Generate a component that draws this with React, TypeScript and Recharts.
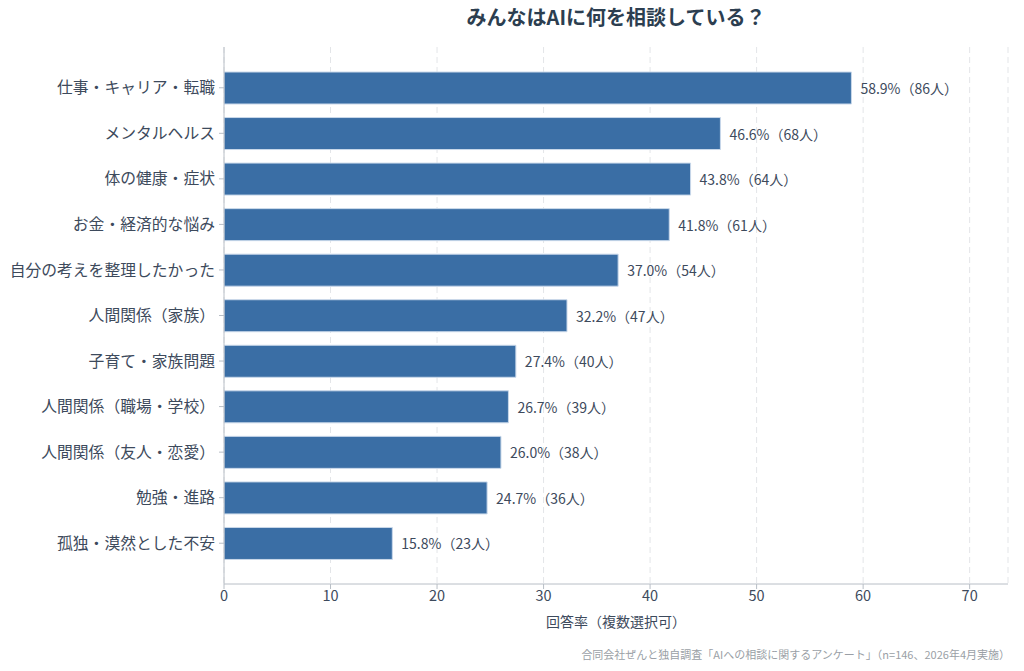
import React from 'react';
import { BarChart, Bar, XAxis, YAxis, CartesianGrid, LabelList } from 'recharts';

const categories = [
  '仕事・キャリア・転職',
  'メンタルヘルス',
  '体の健康・症状',
  'お金・経済的な悩み',
  '自分の考えを整理したかった',
  '人間関係（家族）',
  '子育て・家族問題',
  '人間関係（職場・学校）',
  '人間関係（友人・恋愛）',
  '勉強・進路',
  '孤独・漠然とした不安'
];
const rates = [58.9, 46.6, 43.8, 41.8, 37.0, 32.2, 27.4, 26.7, 26.0, 24.7, 15.8];
const counts = [86, 68, 64, 61, 54, 47, 40, 39, 38, 36, 23];
const xTicks = [0, 10, 20, 30, 40, 50, 60, 70];

const data = categories.map((name, i) => ({ name, rate: rates[i], count: counts[i] }));

const FONT = '"Noto Sans CJK JP", "Noto Sans", sans-serif';
const TEXT = '#3d4a5c';

const renderValue = props => {
  const { x, y, width, height, index } = props;
  return (
    <text
      x={x + width + 9}
      y={y + height / 2}
      dominantBaseline="central"
      fontSize={14}
      fill={TEXT}
      fontFamily={FONT}
    >
      {`${rates[index].toFixed(1)}%（${counts[index]}人）`}
    </text>
  );
};

export default function App() {
  return (
    <div style={{ position: 'absolute', left: 0, top: 0, width: 1024, height: 671, background: '#fff', fontFamily: FONT }}>
      <div
        style={{
          position: 'absolute',
          left: 224,
          width: 784,
          top: 2,
          textAlign: 'center',
          fontSize: 20,
          fontWeight: 700,
          color: '#2c3e50'
        }}
      >
        みんなはAIに何を相談している？
      </div>
      <BarChart
        width={1024}
        height={671}
        data={data}
        layout="vertical"
        margin={{ top: 47, right: 16, bottom: 37, left: 0 }}
        barSize={32}
      >
        <CartesianGrid horizontal={false} stroke="#e3e5e8" strokeDasharray="6 4" />
        <XAxis
          type="number"
          domain={[0, 73.6]}
          ticks={xTicks}
          allowDataOverflow
          stroke="#b8bec6"
          tickSize={5}
          tick={{ fill: TEXT, fontSize: 14.5, fontFamily: FONT }}
          height={50}
          label={{ value: '回答率（複数選択可）', position: 'insideTop', offset: 33, fill: TEXT, fontSize: 14, fontFamily: FONT }}
        />
        <YAxis
          type="category"
          dataKey="name"
          width={224}
          padding={{ top: 18, bottom: 18 }}
          stroke="#b8bec6"
          tickSize={5}
          tickMargin={4}
          tick={{ fill: TEXT, fontSize: 15.8, fontFamily: FONT }}
        />
        <Bar dataKey="rate" fill="#3a6ea5" stroke="#c9d8ea" strokeWidth={1} isAnimationActive={false}>
          <LabelList dataKey="rate" content={renderValue} />
        </Bar>
      </BarChart>
      <div
        style={{
          position: 'absolute',
          right: 14,
          top: 646,
          fontSize: 11,
          color: '#9a9fa6'
        }}
      >
        合同会社ぜんと独自調査「AIへの相談に関するアンケート」（n=146、2026年4月実施）
      </div>
    </div>
  );
}
